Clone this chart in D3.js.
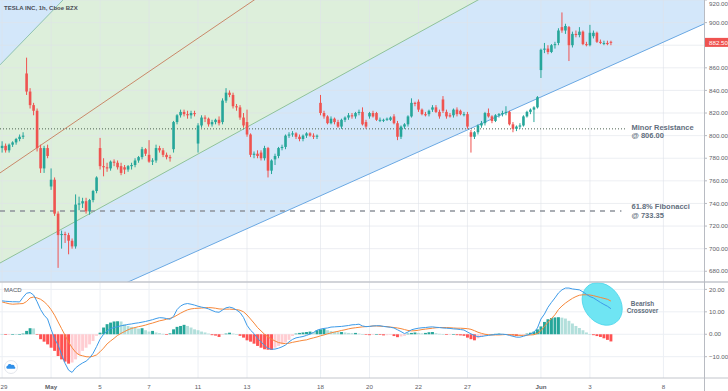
<!DOCTYPE html>
<html>
<head>
<meta charset="utf-8">
<script src="https://cdn.jsdelivr.net/npm/d3@7"></script>
<style>
  html, body { margin: 0; padding: 0; background: #fff; overflow: hidden; }
  svg { display: block; font-family: "Liberation Sans", Arial, sans-serif; }
</style>
</head>
<body>
<div id="chart"></div>
<script>
// hourly bars, 7 per session, Apr 29 -> Jun 3 : [open, high, low, close]
const ohlc = [
  [789,795,785,791],[791,793,785,787],[787,793,785,792],[792,795,790,794],[794,798,792,797],[797,801,795,799],[799,803,797,800],
  [855,869,836,839],[839,842,824,827],[827,829,818,822],[822,824,786,789],[789,792,767,771],[771,791,767,789],[789,792,780,782],
  [755,771,752,761],[761,763,729,731],[731,733,683,712],[712,716,700,713],[713,715,705,712],[712,714,695,707],[707,709,700,702],
  [702,748,700,739],[739,746,734,740],[740,745,736,742],[742,745,731,733],[733,744,730,743],[743,752,741,751],[751,764,749,763],
  [789,798,770,773],[773,780,764,772],[772,776,768,771],[771,778,769,777],[777,779,773,776],[776,778,770,772],[773,776,765,767],
  [772,774,766,770],[770,774,768,773],[773,776,770,774],[774,780,772,778],[778,782,776,781],[781,790,779,788],[788,789,782,784],
  [783,796,776,777],[777,780,774,778],[778,792,776,789],[789,791,785,787],[787,789,781,783],[783,785,779,781],[781,783,777,780],
  [788,813,785,812],[812,819,810,818],[818,823,816,821],[821,823,817,819],[819,822,815,818],[818,822,815,820],[820,822,817,819],
  [793,811,785,809],[809,818,807,816],[816,818,812,815],[815,816,808,810],[810,814,808,812],[812,815,810,814],[814,817,809,811],
  [812,833,810,831],[831,842,829,838],[838,840,834,836],[836,838,824,826],[826,828,822,825],[825,827,814,816],[816,820,807,809],
  [812,823,799,801],[801,802,781,783],[783,786,780,784],[784,787,780,782],[785,787,778,780],[780,791,778,789],[789,790,763,769],
  [769,779,766,778],[779,784,774,782],[782,790,780,789],[789,792,787,790],[790,801,788,800],[800,803,798,801],[801,804,799,802],
  [802,803,797,799],[799,801,795,797],[797,801,795,800],[800,803,798,802],[802,803,799,800],[800,802,797,799],[799,801,797,800],
  [829,836,818,820],[820,822,815,817],[817,818,810,811],[811,817,810,815],[815,816,810,812],[812,814,807,808],[808,815,806,814],
  [814,817,812,816],[816,820,814,818],[818,820,815,817],[817,821,815,820],[820,823,818,821],[821,825,809,810],[812,814,806,808],
  [817,821,815,820],[820,822,816,817],[820,821,813,814],[814,816,812,814],[814,815,812,814],[814,816,813,815],[814,817,813,816],
  [817,819,810,811],[811,813,796,799],[799,809,797,808],[808,811,806,810],[810,818,808,817],[817,833,816,829],[829,830,826,828],
  [830,832,821,823],[823,824,818,819],[819,821,817,818],[819,823,817,822],[823,827,821,825],[825,827,820,821],[821,823,815,817],
  [832,835,820,822],[821,823,815,817],[818,820,816,817],[818,824,816,823],[823,825,817,819],[822,823,818,819],[819,821,817,819],
  [819,821,806,808],[803,805,785,799],[799,804,797,803],[803,810,801,809],[809,813,807,811],[811,821,809,820],[820,824,816,817],
  [817,818,811,813],[813,819,812,818],[818,820,816,819],[819,822,817,820],[820,826,818,821],[821,822,809,810],[810,812,803,806],
  [806,809,804,808],[808,811,806,809],[809,818,808,817],[817,822,816,821],[821,824,819,823],[823,826,812,825],[825,835,824,834],
  [858,877,851,876],[876,882,873,877],[877,880,872,874],[874,881,873,880],[880,883,877,881],[882,895,880,893],[896,909,891,893],
  [893,899,890,897],[896,897,866,880],[880,892,878,890],[890,893,887,889],[889,896,887,892],[892,893,880,881],[881,883,879,880],
  [880,898,879,891],[888,893,886,891],[891,892,882,883],[883,885,881,882],[882,884,880,882],[882,884,880,881],[883,884,880,882.5]
];

const macdLine = [
  14.9,14.7,14.6,14.5,14.5,14.4,16.5, 18.3,18.6,17.5,14.5,11,8.5,6.8,
  2.2,-2,-4.8,-9,-13,-16,-17, -15,-13.8,-12.8,-12,-10.6,-8.5,-5.5,
  -2.2,0,1.5,2.5,3,3.4,3.8, 4,4.4,4.6,4.9,5.1,5.4,5.7,
  6.1,6.5,7,7.4,7.3,7,6.7, 8,11,12.6,13.4,13.7,13.4,13,
  12.5,12.1,11.8,11.3,10.6,10,9.8, 10.8,11.8,12.1,11.7,10.8,9.7,7.5,
  4,1.8,0.3,-1.8,-3.4,-5,-6.3, -6.7,-6.6,-6.2,-5.6,-4.8,-3.4,-2.3,
  -1.6,-1.3,-1,-0.5,0.1,0.8,1.8, 2.3,2.6,2.8,3.2,3.3,3.4,3.5,
  3.7,3.9,4.2,4.3,4.5,3.7,3.4, 3.5,3.7,3.8,3.8,3.5,3.3,3.1,
  2.8,2,1.2,0.3,1,2,2.4, 2.7,2.9,3,3.2,3.3,3.1,3,
  2.8,2.7,2.6,2.4,2.3,2.1,1.9, 1,0.2,-0.6,-1.1,-1,-0.7,-0.5,
  -0.3,-0.1,0,0,-0.1,-0.5,-0.9, -1.3,-1.3,-0.9,-0.4,0.1,0.9,2.8,
  6.8,9,12,14.2,16.2,18.4,19.8, 20.6,20.6,20.2,20,19.8,18.9,17.8,
  16.8,16.2,15.2,14.2,13.3,12.5,11.4
];

const signalLine = [
  14.4,14,13.6,13.4,13.5,13.6,13.7, 14.6,16.2,16.6,16.2,15.6,14.5,13,
  11,8.5,5.5,2.5,-0.5,-3.5,-6, -8,-9.2,-9.6,-10,-10.1,-9.8,-9.2,
  -7.8,-6.2,-4.3,-3,-1.8,-0.5,0.4, 1.2,2,2.6,3,3.4,3.7,4.1,
  4.6,5,5.5,6,6.3,6.7,7.1, 7.6,8.5,9.4,10.2,10.9,11.3,11.5,
  11.6,11.7,11.8,11.9,11.8,11.6,11.3, 11.2,11.2,11.2,11.1,11,10.7,10,
  8.6,6.8,5,3,1.5,0,-1.2, -2.2,-3,-3.7,-4,-4.2,-4,-3.6,
  -3.3,-3,-2.7,-2.5,-2,-1.6,-1.2, -0.7,-0.3,0.2,0.6,1,1.3,1.7,
  2,2.4,2.7,2.9,3.1,3.3,3.4, 3.5,3.7,3.7,3.6,3.5,3.4,3.2,
  3,2.8,2.5,2.1,1.7,1.5,1.6, 1.8,2.1,2.3,2.5,2.7,2.9,3,
  3,3,2.9,2.8,2.7,2.7,2.6, 2.5,2.2,1.6,0.9,0.4,0,-0.2,
  -0.3,-0.3,-0.3,-0.2,-0.1,-0.2,-0.3, -0.4,-0.5,-0.5,-0.4,-0.3,-0.2,0.4,
  1.6,3.5,5.3,7,8.7,11,12.6, 13.9,15,16,16.8,17.4,17.6,17.6,
  17.5,17.2,16.8,16.4,16,15.6,14.8
];

const histogram = [
  0.1,-0.3,-0.1,0.1,0,0.1,0.3, 1.5,2.7,2.6,-0.2,-2.2,-3.3,-4.5,
  -6,-7.4,-9.7,-11.2,-12.2,-13.1,-12.6, -11.2,-9.2,-7.4,-6,-4.5,-3,-0.7,
  0.7,3,4.5,5.2,5.7,5.8,5.7, 4.5,3.7,3.3,3,2.5,2.7,1.8,
  1.2,1.5,0.8,0.5,0.2,-0.3,0.4, 2.2,3.3,3.7,4.2,3.7,3,2.2,
  1.8,1.2,0.8,0.3,-0.4,-0.6,-1.2, -0.3,0.3,0.7,0.3,0,-0.7,-1.5,
  -2.7,-3.3,-4.2,-5.2,-6,-6.7,-6.9, -7,-6,-5.2,-4.5,-3.7,-2.5,-0.8,
  0.3,0.6,0.8,1,1.2,1,1.8, 2.2,2.4,1.8,1.4,1.1,0.9,1,
  0.8,0.6,0.5,0.6,0.3,0,-0.2, -0.4,-0.2,0,-0.3,-0.5,-0.4,-0.3,
  -0.8,-1.3,-1,-0.7,0.3,0.6,0.8, 0.6,0.4,0.6,0.9,1,0.5,0.2,
  0,-0.3,-0.2,0,-0.4,-0.5,-0.7, -1.5,-2.2,-2.7,-1.8,-1.2,-0.6,-0.2,
  0,0.2,0.3,0.2,0.1,-0.2,-0.5, -0.8,-0.6,-0.2,0.3,0.7,1.2,2.2,
  3.5,5.5,6.7,7.2,7.5,7.6,7.4, 7,6,4.8,3.7,2.8,1.8,0.8,
  0,-0.4,-0.8,-1.2,-1.8,-2.5,-3.2
];

// session starts (bar index) and their labels
const tickBars = [0, 14, 28, 42, 56, 70, 91, 105, 119, 133, 154, 168, 189];
const tickLabels = ["29", "May", "5", "7", "11", "13", "18", "20", "22", "27", "Jun", "3", "8"];
const priceTicks = [680, 700, 720, 740, 760, 780, 800, 820, 840, 860, 880, 900, 920];
const macdTicks = [20, 10, 0, -10];

// drawing tools, as [bar, price] anchors
const blueChannelLow = [[36, 670.5], [200, 898]];
const greenChannelLow = [[-0.6, 687.3], [136, 920]];
const greenChannelHigh = [[-0.6, 862.6], [17.4, 920]];
const medianLine = [[-0.6, 767], [35.1, 842.2]];
const minorResistance = 806.00;
const fibLevel = 733.35;
const lastPrice = 882.50;

const W = 728, H = 391, plotW = 704;
const mainBottom = 282, macdBottom = 378;

const x = d3.scaleLinear().domain([-0.6, 200.6]).range([0, plotW]);
const y = d3.scaleLinear().domain([670.5, 920]).range([mainBottom, 0]);
const ym = d3.scaleLinear().domain([-19.5, 23.3]).range([macdBottom, mainBottom]);

const svg = d3.select("#chart").append("svg")
  .attr("width", W).attr("height", H);

const defs = svg.append("defs");
defs.append("clipPath").attr("id", "clipMain")
  .append("rect").attr("x", 0).attr("y", 0).attr("width", plotW).attr("height", mainBottom);
defs.append("clipPath").attr("id", "clipMacd")
  .append("rect").attr("x", 0).attr("y", mainBottom).attr("width", plotW).attr("height", macdBottom - mainBottom);

// value of a two point line at bar i
function lineAt(pts, i) {
  const [[i0, v0], [i1, v1]] = pts;
  return v0 + (i - i0) * (v1 - v0) / (i1 - i0);
}
const xa = x.domain()[0], xb = x.domain()[1];

const main = svg.append("g").attr("clip-path", "url(#clipMain)");

// blue channel (everything above its lower line)
main.append("path")
  .attr("d", d3.line()([
    [x(xa), y(lineAt(blueChannelLow, xa))],
    [x(xb), y(lineAt(blueChannelLow, xb))],
    [x(xb), y(1000)], [x(xa), y(1000)]
  ]))
  .attr("fill", "#d3e7fa");

// green channel
main.append("path")
  .attr("d", d3.line()([
    [x(xa), y(lineAt(greenChannelLow, xa))],
    [x(xb), y(lineAt(greenChannelLow, xb))],
    [x(xb), y(lineAt(greenChannelHigh, xb))],
    [x(xa), y(lineAt(greenChannelHigh, xa))]
  ]))
  .attr("fill", "#ddefdb");

// grid
main.selectAll(".vgrid").data(tickBars).enter().append("line")
  .attr("x1", d => x(d)).attr("x2", d => x(d))
  .attr("y1", 0).attr("y2", mainBottom)
  .attr("stroke", "#dfe3ea").attr("stroke-opacity", 0.6);
main.selectAll(".hgrid").data(priceTicks).enter().append("line")
  .attr("x1", 0).attr("x2", plotW)
  .attr("y1", d => y(d)).attr("y2", d => y(d))
  .attr("stroke", "#dfe3ea").attr("stroke-opacity", 0.6);

// trend lines
function trend(pts, color) {
  main.append("line")
    .attr("x1", x(xa)).attr("y1", y(lineAt(pts, xa)))
    .attr("x2", x(xb)).attr("y2", y(lineAt(pts, xb)))
    .attr("stroke", color).attr("stroke-width", 1);
}
trend(blueChannelLow, "#6aa8e3");
trend(greenChannelLow, "#8fc29a");
trend(greenChannelHigh, "#8fc2b0");
trend(medianLine, "#c9896a");

// horizontal levels
main.append("line")
  .attr("x1", 0).attr("x2", x(178.6))
  .attr("y1", y(minorResistance)).attr("y2", y(minorResistance))
  .attr("stroke", "#4f6453").attr("stroke-width", 1).attr("stroke-dasharray", "1,2");
main.append("line")
  .attr("x1", 0).attr("x2", x(177))
  .attr("y1", y(fibLevel)).attr("y2", y(fibLevel))
  .attr("stroke", "#8d939b").attr("stroke-width", 1.5).attr("stroke-dasharray", "5,5");

// candles
const bars = ohlc.map((d, i) => ({ i, o: d[0], h: d[1], l: d[2], c: d[3] }));
const up = "#26a69a", down = "#ef5350";
main.selectAll(".wick").data(bars).enter().append("line")
  .attr("x1", d => x(d.i)).attr("x2", d => x(d.i))
  .attr("y1", d => y(d.h)).attr("y2", d => y(d.l))
  .attr("stroke", d => d.c >= d.o ? up : down).attr("stroke-width", 1);
main.selectAll(".body").data(bars).enter().append("rect")
  .attr("x", d => x(d.i) - 1.3)
  .attr("y", d => y(Math.max(d.o, d.c)))
  .attr("width", 2.6)
  .attr("height", d => Math.max(1, Math.abs(y(d.o) - y(d.c))))
  .attr("fill", d => d.c >= d.o ? up : down);

// annotations
const noteColor = "#5f6e7d";
function note(lines, xPos, yPos, size, anchor) {
  const t = svg.append("text")
    .attr("x", xPos).attr("y", yPos)
    .attr("fill", noteColor)
    .attr("font-size", size + "px")
    .attr("font-weight", "bold")
    .attr("text-anchor", anchor || "start");
  lines.forEach((s, k) => t.append("tspan").attr("x", xPos).attr("dy", k === 0 ? 0 : size + 0.6).text(s));
}
note(["Minor Resistance", "@ 806.00"], 631.5, y(minorResistance) + 1.5, 7.5);
note(["61.8% Fibonacci", "@ 733.35"], 631.5, y(fibLevel) - 1.5, 7.5);

// MACD pane
const macdG = svg.append("g").attr("clip-path", "url(#clipMacd)");
macdG.selectAll(".mvgrid").data(tickBars).enter().append("line")
  .attr("x1", d => x(d)).attr("x2", d => x(d))
  .attr("y1", mainBottom).attr("y2", macdBottom)
  .attr("stroke", "#eceff4");
macdG.selectAll(".mhgrid").data(macdTicks).enter().append("line")
  .attr("x1", 0).attr("x2", plotW)
  .attr("y1", d => ym(d)).attr("y2", d => ym(d))
  .attr("stroke", "#eceff4");

const histColor = (v, i) => {
  const prev = i > 0 ? histogram[i - 1] : v;
  if (v >= 0) return v > prev ? "#26a69a" : "#b2dfdb";
  return v > prev ? "#ffcdd2" : "#ff5252";
};
macdG.selectAll(".hist").data(histogram).enter().append("rect")
  .attr("x", (d, i) => x(i) - 1.45)
  .attr("width", 2.9)
  .attr("y", d => ym(Math.max(0, d)))
  .attr("height", d => Math.max(0.6, Math.abs(ym(d) - ym(0))))
  .attr("fill", (d, i) => histColor(d, i));

// highlighted crossover
macdG.append("ellipse")
  .attr("cx", x(171.5)).attr("cy", ym(13.5))
  .attr("rx", 23).attr("ry", 18)
  .attr("transform", `rotate(52, ${x(171.5)}, ${ym(13.5)})`)
  .attr("fill", "#6fe5f3").attr("stroke", "#4fd6ea").attr("stroke-width", 0.8);

const lineGen = d3.line().x((d, i) => x(i)).y(d => ym(d));
macdG.append("path").datum(signalLine).attr("d", lineGen)
  .attr("fill", "none").attr("stroke", "#f7883a").attr("stroke-width", 1);
macdG.append("path").datum(macdLine).attr("d", lineGen)
  .attr("fill", "none").attr("stroke", "#3d9be9").attr("stroke-width", 1);

note(["Bearish", "Crossover"], 642.5, ym(12.6), 6.4, "middle");

// frame lines
svg.append("line").attr("x1", 0).attr("x2", W).attr("y1", mainBottom).attr("y2", mainBottom)
  .attr("stroke", "#c3c6cc").attr("stroke-width", 1.5);
svg.append("line").attr("x1", 0).attr("x2", W).attr("y1", macdBottom).attr("y2", macdBottom)
  .attr("stroke", "#c3c6cc").attr("stroke-width", 1);
svg.append("line").attr("x1", plotW + 0.5).attr("x2", plotW + 0.5).attr("y1", 0).attr("y2", H)
  .attr("stroke", "#b8bbc2").attr("stroke-width", 1);

// right scales (a tick label hidden behind the last price marker is skipped)
const axisColor = "#5d6066";
const rightAxis = (scale, ticks, fmt) => {
  const g = svg.append("g");
  g.selectAll("line").data(ticks).enter().append("line")
    .attr("x1", plotW).attr("x2", plotW + 3)
    .attr("y1", d => scale(d)).attr("y2", d => scale(d))
    .attr("stroke", "#b8bbc2");
  g.selectAll("text").data(ticks).enter().append("text")
    .attr("x", plotW + 5).attr("y", d => Math.max(scale(d) + 2.2, 5.5))
    .attr("font-size", "6.2px").attr("fill", axisColor)
    .text(fmt);
};
rightAxis(y, priceTicks.filter(d => Math.abs(y(d) - y(lastPrice)) > 8), d => d3.format(".2f")(d));
rightAxis(ym, macdTicks, d => d3.format(".2f")(d).replace("-", "\u2212"));

// last price marker
svg.append("rect").attr("x", plotW + 1).attr("y", y(lastPrice) - 4.5)
  .attr("width", W - plotW - 1).attr("height", 9).attr("fill", "#ef5350");
svg.append("text").attr("x", plotW + 5).attr("y", y(lastPrice) + 2.2)
  .attr("font-size", "6.2px").attr("fill", "#fff").text(d3.format(".2f")(lastPrice));

// time axis
svg.selectAll(".xlab").data(tickBars).enter().append("text")
  .attr("x", d => Math.max(x(d), 4)).attr("y", 388.5)
  .attr("text-anchor", "middle")
  .attr("font-size", "6.2px")
  .attr("font-weight", (d, k) => /[A-Za-z]/.test(tickLabels[k]) ? "bold" : "normal")
  .attr("fill", axisColor)
  .text((d, k) => tickLabels[k]);

// titles
svg.append("text").attr("x", 4).attr("y", 9.5)
  .attr("font-size", "6px").attr("font-weight", "bold").attr("fill", "#4a4d55")
  .text("TESLA INC, 1h, Cboe BZX");
svg.append("text").attr("x", 4).attr("y", 292)
  .attr("font-size", "6px").attr("fill", "#55585f").text("MACD");

// small cloud badge
const badge = svg.append("g").attr("transform", "translate(11,367)");
badge.append("circle").attr("r", 6.5).attr("fill", "#fff").attr("stroke", "#e3e6ec");
badge.append("path")
  .attr("d", "M-3.6,1.8 a1.6,1.6 0 0 1 0.2,-3.1 a2.2,2.2 0 0 1 4.1,-0.6 a1.8,1.8 0 0 1 2.9,1.6 a1.1,1.1 0 0 1 0,2.1 z")
  .attr("fill", "#2f8fe8");
</script>
</body>
</html>
